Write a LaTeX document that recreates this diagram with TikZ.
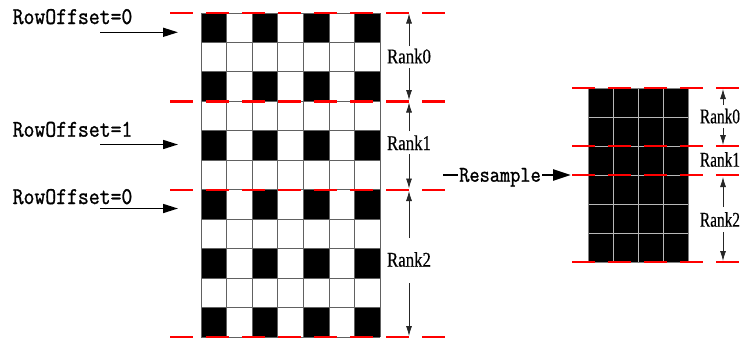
\documentclass[tikz,border=0pt]{standalone}
\usepackage{fontspec}
\newfontfamily\monoF[FakeStretch=0.88,FakeBold=1.2]{Latin Modern Mono}
\newfontfamily\rankF[FakeStretch=0.8,FakeBold=0.4]{Liberation Serif}
\newfontfamily\rankS[FakeStretch=0.73,FakeBold=0.4]{Liberation Serif}
\usetikzlibrary{arrows.meta}
\tikzset{
  cellblack/.style={fill=black,draw=none},
  gridline/.style={draw=black!62,line width=0.9pt},
  gridlight/.style={draw=black!28,line width=0.9pt},
  reddash/.style={draw=red,line width=2.4pt,dash pattern=on 23pt off 13pt},
  rankarrow/.style={draw=black!85,line width=0.8pt,-{Latex[length=10pt,width=6pt]}},
  offarrow/.style={draw=black,line width=1.6pt,-{Triangle[length=15pt,width=9pt]}},
  resarrow/.style={draw=black,line width=2.6pt,-{Triangle[length=18pt,width=11pt]}},
  offlabel/.style={font=\monoF\fontsize{24}{26}\selectfont,inner sep=0pt,anchor=base west},
  reslabel/.style={font=\monoF\fontsize{22.5}{25}\selectfont,inner sep=1.5pt,fill=white,anchor=base},
  ranklabel/.style={font=\rankF\fontsize{21}{23}\selectfont,inner sep=0pt,anchor=base},
  rankslabel/.style={font=\rankS\fontsize{21}{23}\selectfont,inner sep=0pt,anchor=base},
}
\begin{document}
\begin{tikzpicture}[x=1pt,y=-1pt]
\useasboundingbox (0,0) rectangle (749,341);
% ---------- left grid ----------
\def\lx{201}\def\ly{13}\def\lw{25.64}\def\lh{29.45}
\foreach \r in {0,2,4,6,8,10}{
  \foreach \c in {0,2,4,6}{
    \fill[cellblack] ({\lx+\c*\lw},{\ly+\r*\lh}) rectangle ({\lx+(\c+1)*\lw},{\ly+(\r+1)*\lh});
  }
}
\foreach \c in {0,...,7}{
  \draw[gridline] ({\lx+\c*\lw},\ly) -- ({\lx+\c*\lw},{\ly+11*\lh});
}
\foreach \r in {0,...,11}{
  \draw[gridline] (\lx,{\ly+\r*\lh}) -- ({\lx+7*\lw},{\ly+\r*\lh});
}
% ---------- right grid ----------
\def\rx{588}\def\ry{88}\def\rw{25.15}\def\rh{29}
\fill[black] (\rx,\ry) rectangle ({\rx+4*\rw},{\ry+6*\rh});
\foreach \c in {1,2,3}{
  \draw[gridlight] ({\rx+\c*\rw},\ry) -- ({\rx+\c*\rw},{\ry+6*\rh});
}
\foreach \r in {1,...,5}{
  \draw[gridlight] (\rx,{\ry+\r*\rh}) -- ({\rx+4*\rw},{\ry+\r*\rh});
}
\draw[draw=black!50,line width=0.9pt] (\rx,\ry) rectangle ({\rx+4*\rw},{\ry+6*\rh});
% ---------- red dashed lines ----------
\coordinate (la0) at (170,13);     \coordinate (lb0) at (446,13);
\coordinate (la1) at (170,101.3);  \coordinate (lb1) at (446,101.3);
\coordinate (la2) at (170,189.7);  \coordinate (lb2) at (446,189.7);
\coordinate (la3) at (170,337);    \coordinate (lb3) at (446,337);
\foreach \i in {0,1,2,3}{ \draw[reddash] (la\i) -- (lb\i); }
\coordinate (ra0) at (572,88);  \coordinate (rb0) at (741,88);
\coordinate (ra1) at (572,146); \coordinate (rb1) at (741,146);
\coordinate (ra2) at (572,175); \coordinate (rb2) at (741,175);
\coordinate (ra3) at (572,262); \coordinate (rb3) at (741,262);
\foreach \i in {0,1,2,3}{ \draw[reddash] (ra\i) -- (rb\i); }
% ---------- left rank labels and arrows ----------
\node[ranklabel] (lr0) at (409,63.3) {Rank0};
\node[ranklabel] (lr1) at (409,150) {Rank1};
\node[ranklabel] (lr2) at (409,266.7) {Rank2};
\coordinate (lr0u) at (409,46);  \coordinate (lr0ut) at (409,13.5);
\coordinate (lr0d) at (409,68);  \coordinate (lr0dt) at (409,100);
\coordinate (lr1u) at (409,131); \coordinate (lr1ut) at (409,102.5);
\coordinate (lr1d) at (409,154); \coordinate (lr1dt) at (409,188.5);
\coordinate (lr2u) at (409,238); \coordinate (lr2ut) at (409,191);
\coordinate (lr2d) at (409,283); \coordinate (lr2dt) at (409,336);
\foreach \i in {0,1,2}{
  \draw[rankarrow] (lr\i u) -- (lr\i ut);
  \draw[rankarrow] (lr\i d) -- (lr\i dt);
}
% ---------- right rank labels and arrows ----------
\node[rankslabel] (rr0) at (720,123.3) {Rank0};
\node[rankslabel] (rr1) at (720,166.7) {Rank1};
\node[rankslabel] (rr2) at (720,226.7) {Rank2};
\coordinate (rr0u) at (723,105); \coordinate (rr0ut) at (723,89);
\coordinate (rr0d) at (723,128); \coordinate (rr0dt) at (723,145);
\coordinate (rr2u) at (723,207); \coordinate (rr2ut) at (723,177);
\coordinate (rr2d) at (723,232); \coordinate (rr2dt) at (723,261);
\foreach \i in {0,2}{
  \draw[rankarrow] (rr\i u) -- (rr\i ut);
  \draw[rankarrow] (rr\i d) -- (rr\i dt);
}
% ---------- RowOffset labels and arrows ----------
\node[offlabel] (o0) at (12.5,24) {RowOffset=0};
\node[offlabel] (o1) at (12.5,136.7) {RowOffset=1};
\node[offlabel] (o2) at (12.5,204) {RowOffset=0};
\coordinate (oa0) at (100,32.3);  \coordinate (ob0) at (178,32.3);
\coordinate (oa1) at (100,144.5); \coordinate (ob1) at (178,144.5);
\coordinate (oa2) at (100,208.5); \coordinate (ob2) at (178,208.5);
\foreach \i in {0,1,2}{ \draw[offarrow] (oa\i) -- (ob\i); }
% ---------- Resample ----------
\coordinate (rsA) at (443,175);
\coordinate (rsB) at (571,175);
\draw[resarrow] (rsA) -- (rsB);
\node[reslabel] (rs) at (500,181.7) {Resample};
\end{tikzpicture}
\end{document}
